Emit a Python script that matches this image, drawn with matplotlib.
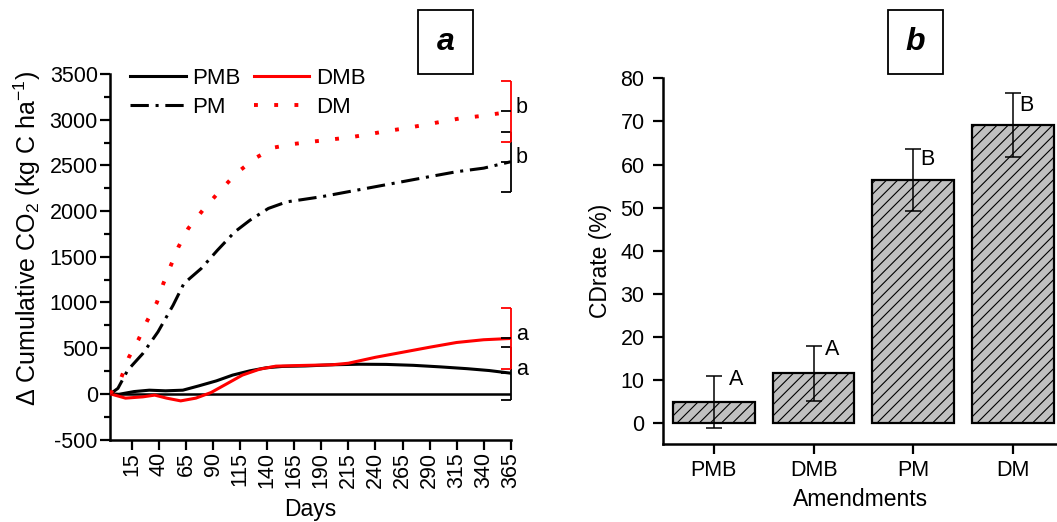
import matplotlib.pyplot as plt
from matplotlib.patches import Rectangle

plt.rcParams['font.family'] = ['Liberation Sans', 'DejaVu Sans']
plt.rcParams['mathtext.fontset'] = 'custom'
plt.rcParams['mathtext.rm'] = 'Liberation Sans'
plt.rcParams['mathtext.it'] = 'Liberation Sans:italic'
plt.rcParams['hatch.linewidth'] = 0.8
plt.rcParams['axes.unicode_minus'] = False

# panel a: cumulative CO2 difference curves
pmb_days = [-5, 3, 17, 31, 46, 62, 77, 93, 108, 124, 139, 154, 175, 200, 225, 250, 275, 300, 325, 345, 365]
pmb_vals = [0, -5, 25, 40, 33, 40, 88, 142, 205, 252, 285, 300, 305, 318, 324, 322, 312, 295, 275, 255, 226]

dmb_days = [-5, 9, 25, 36, 47, 60, 74, 88, 102, 117, 133, 148, 170, 200, 215, 240, 265, 290, 315, 340, 365]
dmb_vals = [0, -47, -33, -14, -47, -77, -47, 14, 106, 205, 270, 303, 310, 318, 335, 400, 455, 510, 562, 592, 606]

pm_days = [-5, 2, 11, 25, 39, 53, 63, 79, 94, 110, 124, 141, 158, 172, 190, 215, 240, 265, 290, 315, 340, 365]
pm_vals = [0, 60, 258, 441, 678, 970, 1208, 1372, 1572, 1773, 1900, 2029, 2101, 2125, 2157, 2212, 2267, 2322,
           2377, 2431, 2470, 2540]

dm_days = [-5, 5, 12, 21, 29, 38, 44, 51, 58, 67, 81, 96, 112, 130, 147, 164, 181, 199, 216, 233, 250, 267,
           284, 301, 318, 337, 354, 365]
dm_vals = [0, 174, 397, 594, 798, 1000, 1208, 1408, 1609, 1810, 2018, 2218, 2419, 2587, 2697, 2734, 2759,
           2784, 2806, 2839, 2875, 2905, 2941, 2978, 3014, 3040, 3069, 3092]

day_ticks = [15, 40, 65, 90, 115, 140, 165, 190, 215, 240, 265, 290, 315, 340, 365]

# end-of-year means, errors and significance letters (DM, PM, DMB, PMB)
end_means = [3092, 2540, 606, 226]
end_errs = [334, 329, 329, 288]
end_colors = ['red', 'black', 'red', 'black']
end_letters = ['b', 'b', 'a', 'a']

# panel b: CDrate
amendments = ['PMB', 'DMB', 'PM', 'DM']
cdrate = [4.9, 11.6, 56.5, 69.1]
cdrate_err = [6.1, 6.4, 7.2, 7.4]
cd_letters = ['A', 'A', 'B', 'B']
cd_letter_dx = [0.22, 0.19, 0.14, 0.13]
cd_letter_y = [10.2, 17.1, 61.1, 73.6]

TICK_FS = 15.5
LABEL_FS = 16.5

fig = plt.figure(figsize=(10.57, 5.22), dpi=100)

# ---------------- panel a ----------------
ax = fig.add_axes([0.1044, 0.158, 0.3788, 0.7002])
ax.axhline(0, color='black', lw=1.8, zorder=1)
l1, = ax.plot(pmb_days, pmb_vals, color='black', lw=2.2, label='PMB', zorder=3)
l2, = ax.plot(dmb_days, dmb_vals, color='red', lw=2.2, label='DMB', zorder=3)
l3, = ax.plot(pm_days, pm_vals, color='black', lw=2.2, dashes=(6, 2.2, 1, 2.2), label='PM', zorder=3)
l4, = ax.plot(dm_days, dm_vals, color='red', lw=2.8, dashes=(1, 4.2), label='DM', zorder=3)

# one-sided brackets at day 365
cap = 9
for m, e, c, lt in zip(end_means[::-1], end_errs[::-1], end_colors[::-1], end_letters[::-1]):
    ax.vlines(365, m - e, m + e, color=c, lw=1.3, clip_on=False, zorder=4)
    ax.hlines([m - e, m + e], 365 - cap, 365, color=c, lw=1.3, clip_on=False, zorder=4)
    ax.hlines(m, 365 - cap, 365, color='black', lw=1.3, clip_on=False, zorder=4)
    ax.annotate(lt, (365, m), xytext=(8, 3), textcoords='offset points', ha='center', va='center',
                fontsize=TICK_FS, annotation_clip=False)

ax.set_xlim(-5, 365)
ax.set_ylim(-500, 3500)
ax.set_xticks(day_ticks)
ax.set_xticklabels([str(d) for d in day_ticks], rotation=90)
ax.set_yticks(range(-500, 3501, 500))
ax.set_yticks(range(-250, 3500, 500), minor=True)
for s in ['top', 'right']:
    ax.spines[s].set_visible(False)
for s in ['left', 'bottom']:
    ax.spines[s].set_linewidth(1.8)
ax.tick_params(axis='both', which='major', direction='out', length=7.5, width=1.6, labelsize=TICK_FS, pad=1.5)
ax.tick_params(axis='y', which='minor', direction='out', length=4, width=1.6)
ax.set_xlabel('Days', fontsize=LABEL_FS, labelpad=7)
ax.set_ylabel('Δ Cumulative CO$_2$ (kg C ha$^{-1}$)', fontsize=18, labelpad=2)
ax.yaxis.set_label_coords(-0.168, 0.55)

ax.legend([l1, l3, l2, l4], ['PMB', 'PM', 'DMB', 'DM'], ncol=2, frameon=False, loc='upper left',
          bbox_to_anchor=(0.049, 1.016), borderaxespad=0, borderpad=0, fontsize=16,
          handlelength=2.5, handletextpad=0.3, columnspacing=0.6, labelspacing=0.35)

# ---------------- panel b ----------------
bx = fig.add_axes([0.6275, 0.1488, 0.3725, 0.7012])
x = range(len(amendments))
bx.bar(x, cdrate, width=0.82, color='#c0c0c0', edgecolor='black', linewidth=1.6, hatch='///', zorder=2)
bx.errorbar(x, cdrate, yerr=cdrate_err, fmt='none', ecolor='black', elinewidth=1.1, capsize=5.8,
            capthick=1.1, zorder=3)
for i, (lt, dx, ly) in enumerate(zip(cd_letters, cd_letter_dx, cd_letter_y)):
    bx.text(i + dx, ly, lt, ha='center', va='center', fontsize=TICK_FS)

bx.set_xlim(-0.507, 3.44)
bx.set_ylim(-4.9, 80)
bx.set_xticks(list(x))
bx.set_xticklabels(amendments)
bx.set_yticks(range(0, 81, 10))
for s in ['top', 'right']:
    bx.spines[s].set_visible(False)
for s in ['left', 'bottom']:
    bx.spines[s].set_linewidth(1.8)
bx.tick_params(axis='y', direction='out', length=7.5, width=1.6, labelsize=TICK_FS, pad=6)
bx.tick_params(axis='x', direction='out', length=7.5, width=1.6, labelsize=TICK_FS, pad=3.5)
bx.set_xlabel('Amendments', fontsize=LABEL_FS, labelpad=5)
bx.set_ylabel('CDrate (%)', fontsize=LABEL_FS, labelpad=6)

# panel letters in boxes
for x0, lt in [(418, 'a'), (888, 'b')]:
    fig.patches.append(Rectangle((x0 / 1057, 1 - 74 / 522), 55 / 1057, 64 / 522, transform=fig.transFigure,
                                 fill=False, edgecolor='black', lw=1.3))
    fig.text((x0 + 27.5) / 1057, 1 - 42 / 522, lt, ha='center', va='center', fontsize=23,
             fontweight='bold', fontstyle='italic')

fig.savefig('out.png', dpi=100)
